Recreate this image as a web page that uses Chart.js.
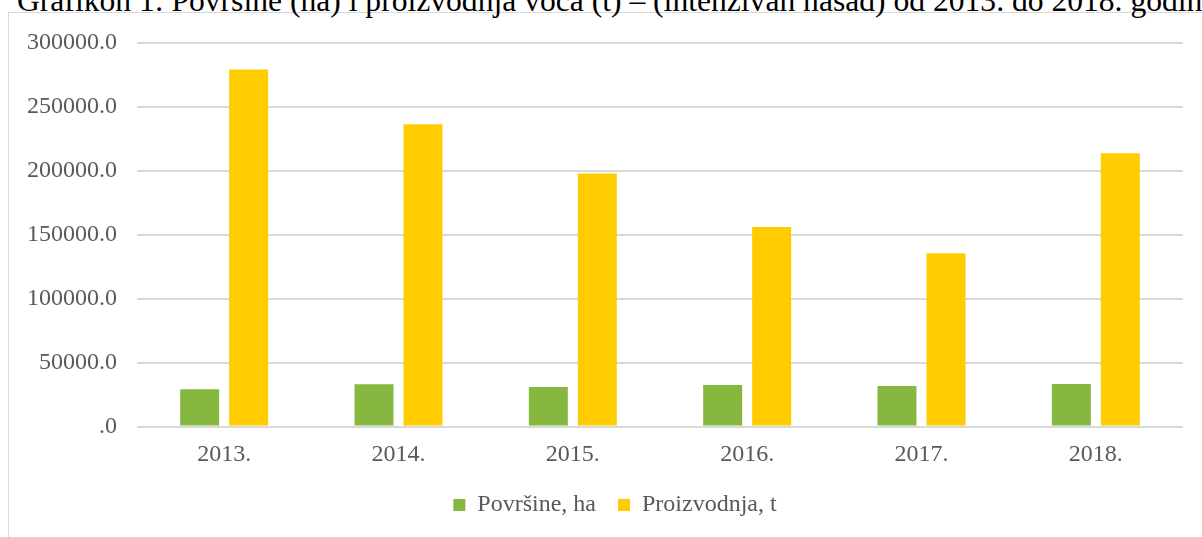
<!DOCTYPE html>
<html>
<head>
<meta charset="utf-8">
<script src="https://cdn.jsdelivr.net/npm/chart.js@4/dist/chart.umd.min.js"></script>
<style>
  html, body { margin: 0; padding: 0; background: #ffffff; overflow: hidden; }
  #wrap { position: relative; width: 1202px; height: 537px; overflow: hidden; }
  #frame { position: absolute; left: 8px; top: 12px; width: 1300px; height: 700px;
           border: 1.5px solid #d9d9d9; box-sizing: border-box; }
  #title { position: absolute; left: 17px; top: -15px; font-family: "Liberation Serif", "Times New Roman", serif;
           font-size: 31.6px; line-height: 1; color: #000; white-space: nowrap; }
  canvas { position: absolute; left: 0; top: 0; }
</style>
</head>
<body>
<div id="wrap">
  <div id="frame"></div>
  <div id="title">Grafikon 1: Površine (ha) i proizvodnja voća (t) – (intenzivan nasad) od 2013. do 2018. godine</div>
  <canvas id="c" width="1202" height="537"></canvas>
</div>
<script>
const categories = ['2013.', '2014.', '2015.', '2016.', '2017.', '2018.'];
const povrsineHa = [29200, 33000, 30900, 32400, 31700, 33200];
const proizvodnjaT = [279200, 236500, 198000, 156000, 135600, 213800];
const seriesNames = ['Površine, ha', 'Proizvodnja, t'];
const yTicks = [0, 50000, 100000, 150000, 200000, 250000, 300000];

const FONT = '"Liberation Serif", "Times New Roman", serif';
const TEXT = '#595959';

const legendShift = {
  id: 'legendShift',
  afterLayout(chart) { if (chart.legend) { chart.legend.left += 47; } }
};

new Chart(document.getElementById('c'), {
  type: 'bar',
  data: {
    labels: categories,
    datasets: [
      { label: seriesNames[0], data: povrsineHa, backgroundColor: '#86b840',
        categoryPercentage: 0.562, barPercentage: 0.796 },
      { label: seriesNames[1], data: proizvodnjaT, backgroundColor: '#ffcc00',
        categoryPercentage: 0.562, barPercentage: 0.796 }
    ]
  },
  plugins: [legendShift],
  options: {
    responsive: false,
    animation: false,
    layout: { padding: { left: 0, right: 19, top: 43, bottom: 10 } },
    plugins: {
      title: { display: false },
      tooltip: { enabled: false },
      legend: {
        position: 'bottom',
        labels: {
          boxWidth: 12, boxHeight: 12, padding: 22,
          color: TEXT, font: { family: FONT, size: 24 }
        }
      }
    },
    scales: {
      x: {
        afterFit: s => { s.height = 44.5; },
        grid: { display: false, drawTicks: false },
        border: { display: false },
        ticks: { color: TEXT, font: { family: FONT, size: 24 }, padding: 13.5, maxRotation: 0 }
      },
      y: {
        min: 0, max: 300000,
        afterFit: s => { s.width = 137; },
        afterBuildTicks: s => { s.ticks = yTicks.map(v => ({ value: v })); },
        grid: { color: '#d9d9d9', lineWidth: 2, drawTicks: false },
        border: { display: false },
        ticks: {
          color: TEXT, font: { family: FONT, size: 24 }, padding: 20,
          callback: v => v === 0 ? '.0' : Number(v).toFixed(1)
        }
      }
    }
  }
});
</script>
</body>
</html>
